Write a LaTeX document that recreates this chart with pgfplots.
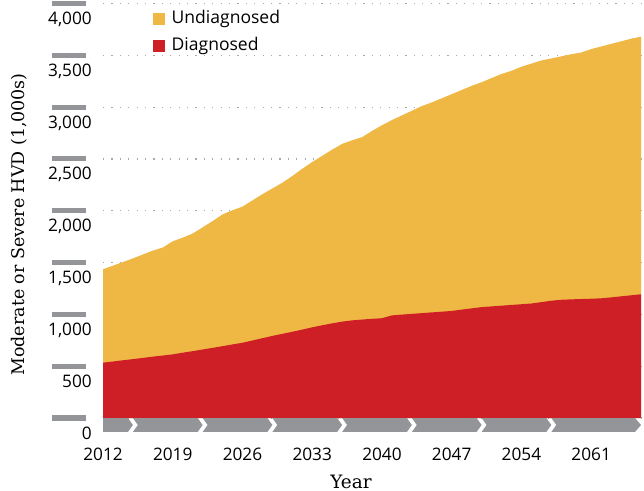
\documentclass[border=0pt]{standalone}
\usepackage{pgfplots}
\pgfplotsset{compat=1.18}
\usepackage{pgfplotstable}
\usepackage{fontspec}
\setmainfont{Open Sans}
\newfontfamily\labelfont{DejaVu Serif}
\definecolor{undiag}{HTML}{EFB744}
\definecolor{diag}{HTML}{CF1F26}
\definecolor{barg}{HTML}{939598}
\definecolor{gridg}{HTML}{A7A9AC}

\pgfplotstableread{
year total diag
2012 1435 534
2013 1470 545
2014 1505 557
2015 1540 568
2016 1578 580
2017 1615 592
2018 1645 603
2019 1705 614
2020 1740 630
2021 1780 645
2022 1840 661
2023 1900 677
2024 1965 693
2025 2005 710
2026 2040 726
2027 2100 748
2028 2160 770
2029 2215 792
2030 2270 812
2031 2335 832
2032 2405 853
2033 2470 875
2034 2530 895
2035 2590 913
2036 2645 930
2037 2680 942
2038 2710 950
2039 2770 957
2040 2825 963
2041 2875 990
2042 2920 998
2043 2965 1005
2044 3010 1012
2045 3045 1019
2046 3085 1026
2047 3125 1033
2048 3165 1046
2049 3205 1058
2050 3240 1070
2051 3280 1077
2052 3320 1084
2053 3350 1091
2054 3390 1098
2055 3420 1105
2056 3450 1118
2057 3470 1132
2058 3490 1141
2059 3510 1145
2060 3527 1148
2061 3560 1151
2062 3585 1155
2063 3610 1164
2064 3635 1174
2065 3660 1184
2066 3680 1194
}\data

\begin{document}
\begin{tikzpicture}
\path[use as bounding box] (0,0) rectangle (644bp,491bp);
\begin{axis}[
  at={(103bp,73bp)}, anchor=south west,
  scale only axis, width=538bp, height=414.5bp,
  xmin=2012, xmax=2066, ymin=0, ymax=4000,
  axis line style={draw=none},
  clip=false,
  xtick={2012,2019,2026,2033,2040,2047,2054,2061},
  xticklabels={2012,2019,2026,2033,2040,2047,2054,2061},
  ytick={0,500,1000,1500,2000,2500,3000,3500,4000},
  yticklabels={0,500,{1,000},{1,500},{2,000},{2,500},{3,000},{3,500},{4,000}},
  xticklabel style={anchor=base, yshift=-42bp, inner sep=0pt},
  yticklabel style={anchor=base east, yshift=-21bp, xshift=-11bp, inner sep=0pt},
  tick label style={font=\fontsize{17.3}{20}\selectfont},
  major tick length=0pt,
  tick style={draw=none},
  ymajorgrids,
  grid style={gridg, line width=1.2bp, dash pattern=on 1.2bp off 7.2bp},
  xlabel={Year},
  ylabel={Moderate or Severe HVD (1,000s)},
  xlabel style={at={(rel axis cs:0.461,0)}, anchor=base, yshift=-70bp, inner sep=0pt, font=\labelfont\fontsize{18.5}{20}\selectfont},
  ylabel style={at={(rel axis cs:0,0.467)}, anchor=base, yshift=78bp, inner sep=0pt, font=\labelfont\fontsize{17.5}{20}\selectfont},
  legend style={draw=none, fill=none, at={(axis description cs:0.0929,0.982)}, anchor=north west,
    inner sep=0pt, font=\fontsize{17.6}{20}\selectfont, row sep=11bp,
    nodes={inner sep=0pt, text height=12bp, text depth=4bp}},
  legend cell align=left,
  legend image code/.code={\fill[#1] (0bp,-5.75bp) rectangle (11.5bp,5.75bp); \path (18.5bp,0bp);},
]
\addplot[draw=none, fill=undiag] table[x=year, y=total] {\data} \closedcycle;
\addlegendentry{Undiagnosed}
\addplot[draw=none, fill=diag] table[x=year, y=diag] {\data} \closedcycle;
\addlegendentry{Diagnosed}

% chevron band under the axis
\fill[barg] (axis cs:2012,0) -- (axis cs:2014.5,0) -- (axis cs:2015,-67.5) -- (axis cs:2014.5,-135) -- (axis cs:2012,-135) -- cycle;
\pgfplotsinvokeforeach{2015,2022,2029,2036,2043,2050}{
  \fill[barg] (axis cs:#1,0) -- (axis cs:#1+6.5,0) -- (axis cs:#1+7,-67.5) -- (axis cs:#1+6.5,-135) -- (axis cs:#1,-135) -- (axis cs:#1+0.5,-67.5) -- cycle;
}
\fill[barg] (axis cs:2057,0) -- (axis cs:2065.4,0) -- (axis cs:2066,-67.5) -- (axis cs:2065.4,-135) -- (axis cs:2057,-135) -- (axis cs:2057.5,-67.5) -- cycle;

% tick bars left of the axis
\pgfplotsinvokeforeach{0,500,1000,1500,2000,2500,3000,3500,4000}{
  \draw[barg, line width=5bp] ([xshift=-51bp]axis cs:2012,#1) -- ([xshift=-17bp]axis cs:2012,#1);
}
\end{axis}
\end{tikzpicture}
\end{document}
